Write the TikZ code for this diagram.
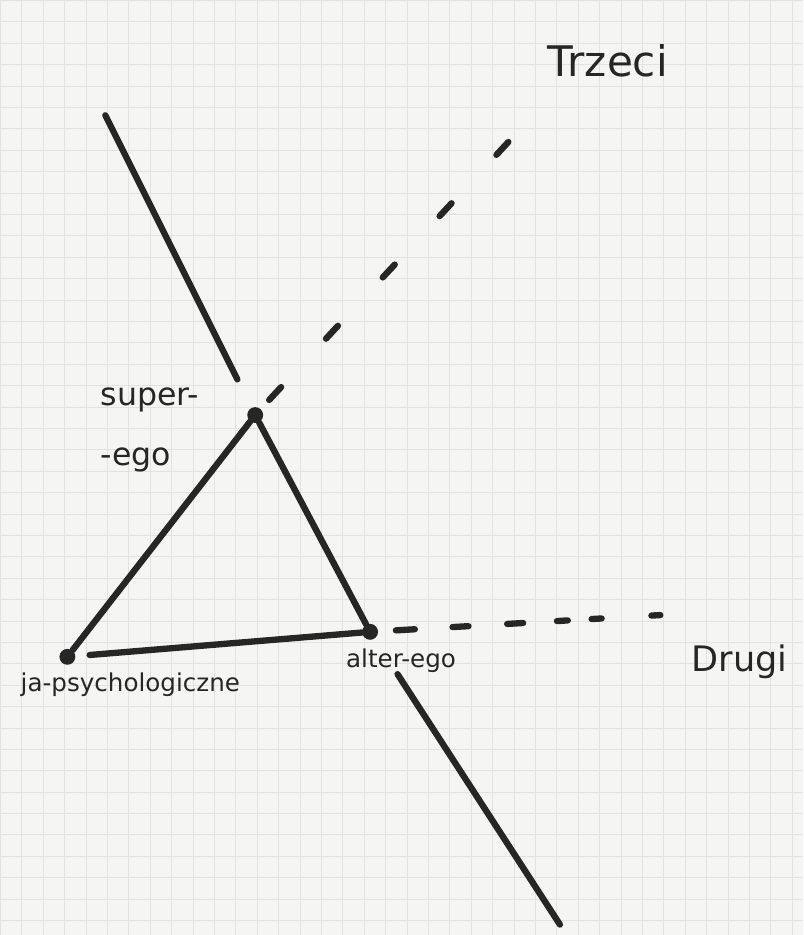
\documentclass[tikz,border=0pt]{standalone}
\usepackage{fontspec}
\setmainfont{DejaVu Sans}
\usetikzlibrary{positioning}
\definecolor{ink}{HTML}{262626}
\definecolor{paper}{HTML}{F5F5F4}
\definecolor{gridc}{HTML}{E2E2E2}
\tikzset{
  egov/.style={circle,fill=ink,inner sep=3.2pt},
  egoline/.style={draw=ink,line width=3.6pt,line cap=round},
  egodash/.style={egoline,dash pattern=on 10pt off 37.6pt},
  handtxt/.style={text=ink,inner sep=0pt,font=\fontsize{14}{16}\selectfont}
}
\begin{document}
\begin{tikzpicture}[x=0.02cm,y=-0.02cm]
  % kratka
  \fill[paper] (0,0) rectangle (803,935);
  \draw[gridc,line width=0.5pt,step=12.19pt] (0,0) grid (803,935);
  \useasboundingbox (0,0) rectangle (803,935);

  \node[egov] (se) at (255,415) {};
  \node[egov] (ja) at (67,657) {};
  \node[egov] (ae) at (370,632) {};
  \coordinate (top) at (105,115);
  \coordinate (bot) at (560,925);
  \coordinate (tr) at (522,127);
  \coordinate (dr) at (664,615);

  \draw[egoline] (se) -- (ja);
  \draw[egoline,shorten <=8pt] (ja) -- (ae);
  \draw[egoline] (ae) -- (se);
  \draw[egoline,shorten >=18pt] (top) -- (se);
  \draw[egoline,shorten <=24pt] (ae) -- (bot);
  \draw[egodash,shorten <=7pt] (se) -- (tr);
  \draw[egoline,shorten <=10pt,
        dash pattern=on 10.8pt off 21.5pt on 9.1pt off 22.1pt on 9.1pt off 19.3pt
                     on 6.2pt off 13.6pt on 5.7pt off 28.4pt on 5.1pt off 60pt]
        (ae) -- (dr);

  \node[handtxt,font=\fontsize{24}{28}\selectfont] (trzeci) at (608,60) {Trzeci};
  \node[handtxt,font=\fontsize{18}{34}\selectfont,align=left,anchor=west] (selbl)
    at (100,430) {super-\\-ego};
  \node[handtxt] (jalbl) at (130,685) {ja-psychologiczne};
  \node[handtxt] (aelbl) at (401,661) {alter-ego};
  \node[handtxt,font=\fontsize{20}{24}\selectfont] (drugi) at (740,662) {Drugi};
\end{tikzpicture}
\end{document}
